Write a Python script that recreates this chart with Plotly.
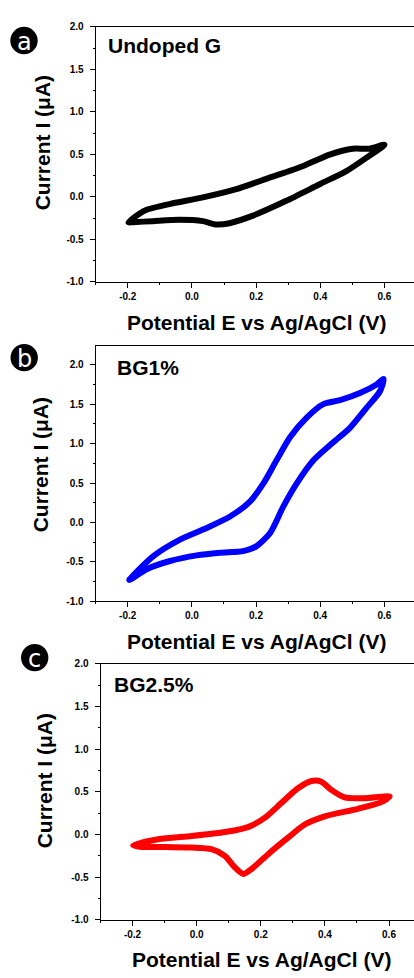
import plotly.graph_objects as go

# ---- data ----
# Panel a: Undoped G  (forward scan then reverse scan)
E_a = [-0.198, -0.164, -0.143, -0.07, 0.034, 0.138, 0.242, 0.345, 0.429, 0.501, 0.553, 0.6,
       0.543, 0.481, 0.398, 0.294, 0.19, 0.117, 0.076, 0.034, -0.039, -0.122, -0.184, -0.198]
I_a = [-0.30, -0.20, -0.155, -0.085, -0.007, 0.09, 0.225, 0.36, 0.497, 0.566, 0.566, 0.613,
       0.458, 0.302, 0.148, -0.047, -0.221, -0.31, -0.326, -0.286, -0.271, -0.286, -0.298, -0.30]

# Panel b: BG1%
E_b = [-0.195, -0.12, -0.037, 0.046, 0.119, 0.181, 0.223, 0.264, 0.306, 0.358, 0.41, 0.462, 0.524, 0.576, 0.598,
       0.586, 0.545, 0.493, 0.441, 0.379, 0.327, 0.285, 0.244, 0.202, 0.16, 0.088, 0.015, -0.068, -0.141, -0.195]
I_b = [-0.73, -0.427, -0.217, -0.07, 0.075, 0.263, 0.494, 0.787, 1.08, 1.33, 1.5, 1.55, 1.64, 1.75, 1.82,
       1.66, 1.455, 1.2, 1.016, 0.787, 0.494, 0.2, -0.133, -0.3, -0.363, -0.384, -0.418, -0.489, -0.593, -0.73]

# Panel c: BG2.5%
E_c = [-0.198, -0.12, -0.016, 0.088, 0.16, 0.212, 0.264, 0.316, 0.358, 0.389, 0.42, 0.462, 0.524, 0.602,
       0.576, 0.503, 0.4, 0.337, 0.285, 0.223, 0.171, 0.145, 0.119, 0.088, 0.046, -0.016, -0.099, -0.172, -0.198]
I_c = [-0.13, -0.058, -0.02, 0.027, 0.085, 0.193, 0.367, 0.54, 0.626, 0.618, 0.522, 0.433, 0.425, 0.444,
       0.378, 0.3, 0.212, 0.116, -0.039, -0.232, -0.406, -0.464, -0.387, -0.252, -0.174, -0.155, -0.147, -0.147, -0.13]

x_tickvals = [-0.2, 0.0, 0.2, 0.4, 0.6]
x_ticktext = ["-0.2", "0.0", "0.2", "0.4", "0.6"]
x_minorvals = [-0.3, -0.1, 0.1, 0.3, 0.5]
y_tickvals = [-1.0, -0.5, 0.0, 0.5, 1.0, 1.5, 2.0]
y_ticktext = ["-1.0", "-0.5", "0.0", "0.5", "1.0", "1.5", "2.0"]
y_minorvals = [-0.75, -0.25, 0.25, 0.75, 1.25, 1.75]

panel_labels = ["a", "b", "c"]
sample_names = ["Undoped G", "BG1%", "BG2.5%"]
colors = ["#000000", "#0000FF", "#FF0000"]
x_title = "Potential E vs Ag/AgCl (V)"
y_title = "Current I (μA)"

W, H = 414, 978
FONT = "Liberation Sans"

def px_x(p):
    return p / W

def px_y(p):
    return 1 - p / H

# layout geometry in pixels
panels = [
    dict(left=95.7, top=21.0, bottom=279.3, xr=[-0.3, 0.692], yr=[-1.0, 2.0]),
    dict(left=95.6, top=344.0, bottom=602.7, xr=[-0.3, 0.6925], yr=[-1.0, 2.24]),
    dict(left=100.5, top=666.0, bottom=925.0, xr=[-0.3, 0.678], yr=[-1.0, 2.0]),
]

fig = go.Figure()
data = [(E_a, I_a), (E_b, I_b), (E_c, I_c)]
for i, (E, I) in enumerate(data):
    n = "" if i == 0 else str(i + 1)
    fig.add_trace(go.Scatter(x=E, y=I, mode="lines", xaxis="x" + n, yaxis="y" + n,
                             line=dict(color=colors[i], width=6, shape="spline", smoothing=0.7),
                             hoverinfo="skip", showlegend=False))

tickfont = dict(family=FONT, size=10, color="#000000", weight="bold")
annotations = []
shapes = []
circle_centers = [(24.0, 35.0), (24.2, 356.0), (34.7, 659.7)]
ytitle_pos = [(42, 139), (40, 465), (44, 785)]
xtitle_pos = [(256, 320), (256, 643), (261, 965)]
name_pos = [(106, 40), (115, 366), (112, 687)]

for i, p in enumerate(panels):
    n = "" if i == 0 else str(i + 1)
    fig.layout["xaxis" + n] = dict(
        domain=[px_x(p["left"]), 1.0], range=p["xr"], anchor="y" + n,
        showline=True, linecolor="#000000", linewidth=1, mirror=True,
        showgrid=False, zeroline=False,
        ticks="outside", ticklen=5, tickwidth=1, tickcolor="#000000",
        tickmode="array", tickvals=x_tickvals, ticktext=x_ticktext,
        tickfont=tickfont,
        minor=dict(tickmode="array", tickvals=x_minorvals, ticks="outside", ticklen=2,
                   tickwidth=1, tickcolor="#000000", showgrid=False),
    )
    fig.layout["yaxis" + n] = dict(
        domain=[px_y(p["bottom"]), px_y(p["top"])], range=p["yr"], anchor="x" + n,
        showline=True, linecolor="#000000", linewidth=1, mirror=False,
        showgrid=False, zeroline=False,
        ticks="outside", ticklen=5, tickwidth=1, tickcolor="#000000",
        tickmode="array", tickvals=y_tickvals, ticktext=y_ticktext,
        tickfont=tickfont, ticklabelstandoff=4,
        minor=dict(tickmode="array", tickvals=y_minorvals, ticks="outside", ticklen=2,
                   tickwidth=1, tickcolor="#000000", showgrid=False),
    )
    annotations.append(dict(text=y_title, textangle=-90, xref="paper", yref="paper",
                            x=px_x(ytitle_pos[i][0]), y=px_y(ytitle_pos[i][1]),
                            xanchor="center", yanchor="middle", showarrow=False,
                            font=dict(family=FONT, size=21, color="#000000", weight="bold")))
    annotations.append(dict(text=x_title, xref="paper", yref="paper",
                            x=px_x(xtitle_pos[i][0]), y=px_y(xtitle_pos[i][1]),
                            xanchor="center", yanchor="middle", showarrow=False,
                            font=dict(family=FONT, size=21, color="#000000", weight="bold")))
    annotations.append(dict(text=sample_names[i], xref="paper", yref="paper",
                            x=px_x(name_pos[i][0]), y=px_y(name_pos[i][1]),
                            xanchor="left", yanchor="middle", showarrow=False,
                            font=dict(family=FONT, size=21, color="#000000", weight="bold")))
    cx, cy = circle_centers[i]
    shapes.append(dict(type="circle", xref="paper", yref="paper",
                       xsizemode="pixel", ysizemode="pixel",
                       xanchor=px_x(cx), yanchor=px_y(cy),
                       x0=-13.7, x1=13.7, y0=-13.7, y1=13.7,
                       fillcolor="#000000", line=dict(color="#000000", width=0), layer="above"))
    annotations.append(dict(text=panel_labels[i], xref="paper", yref="paper",
                            x=px_x(cx), y=px_y(cy + 1), xanchor="center", yanchor="middle",
                            showarrow=False,
                            font=dict(family="DejaVu Sans", size=24, color="#FFFFFF")))

fig.update_layout(width=W, height=H, margin=dict(l=0, r=0, t=0, b=0),
                  paper_bgcolor="#FFFFFF", plot_bgcolor="#FFFFFF",
                  showlegend=False, annotations=annotations, shapes=shapes)

fig.write_html("out.html")
